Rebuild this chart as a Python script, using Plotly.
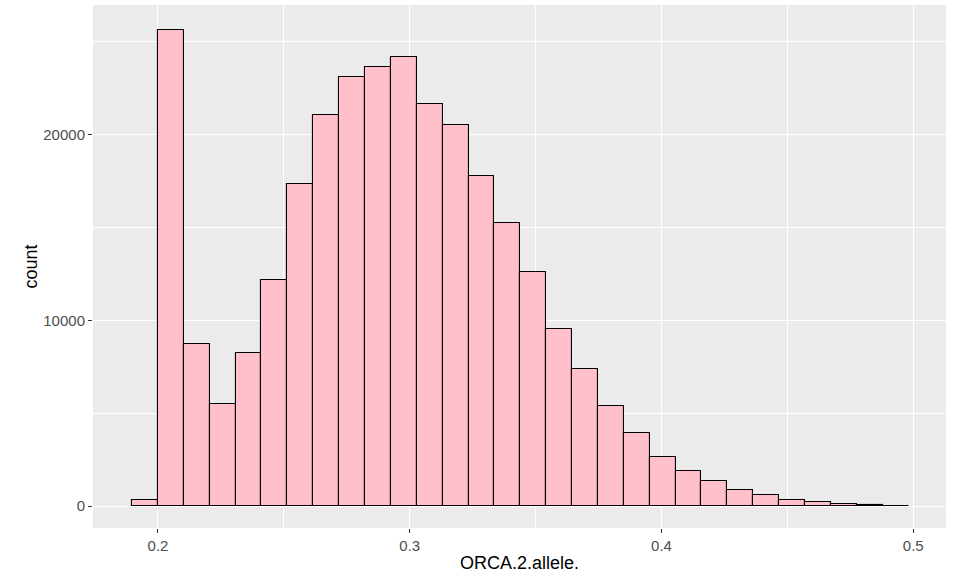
import plotly.graph_objects as go

# Histogram data (30 bins)
bin_start = 0.18972
bin_width = 0.01028
counts = [350, 25620, 8710, 5520, 8240, 12180, 17330, 21040, 23100, 23630,
          24150, 21640, 20500, 17770, 15250, 12580, 9530, 7400, 5410, 3940,
          2670, 1880, 1340, 880, 590, 350, 210, 140, 70, 20]
x_ticks = [0.2, 0.3, 0.4, 0.5]
y_ticks = [0, 10000, 20000]

centers = [bin_start + bin_width * (i + 0.5) for i in range(len(counts))]

fig = go.Figure()
fig.add_trace(go.Bar(
    x=centers, y=counts, width=[bin_width] * len(counts),
    marker=dict(color="#FFC0CB", line=dict(color="black", width=1.1)),
    hoverinfo="x+y",
))

fig.update_layout(
    width=956, height=575,
    margin=dict(l=93, r=10, t=5, b=47),
    paper_bgcolor="white",
    plot_bgcolor="#EBEBEB",
    bargap=0,
    showlegend=False,
    font=dict(family="Liberation Sans, Arial, sans-serif", size=15, color="#4D4D4D"),
    xaxis=dict(
        range=[0.1742, 0.5130],
        tickvals=x_ticks, ticktext=[str(v) for v in x_ticks],
        showgrid=True, gridcolor="white", gridwidth=1.1,
        minor=dict(tickvals=[0.25, 0.35, 0.45], showgrid=True, gridcolor="white", gridwidth=0.5, ticks=""),
        ticks="outside", ticklen=4, tickcolor="#333333", tickwidth=1,
        zeroline=False, showline=False,
        title=dict(text="ORCA.2.allele.", font=dict(size=18, color="black"), standoff=3),
        tickfont=dict(size=15, color="#4D4D4D"),
        automargin=False,
    ),
    yaxis=dict(
        range=[-1170, 26950],
        tickvals=y_ticks, ticktext=[str(v) for v in y_ticks],
        showgrid=True, gridcolor="white", gridwidth=1.1,
        minor=dict(tickvals=[5000, 15000, 25000], showgrid=True, gridcolor="white", gridwidth=0.5, ticks=""),
        ticks="outside", ticklen=4, tickcolor="#333333", tickwidth=1,
        zeroline=False, showline=False,
        title=dict(text="count", font=dict(size=18, color="black"), standoff=0),
        tickfont=dict(size=15, color="#4D4D4D"),
        automargin=False,
    ),
)

fig.write_html("out.html")
